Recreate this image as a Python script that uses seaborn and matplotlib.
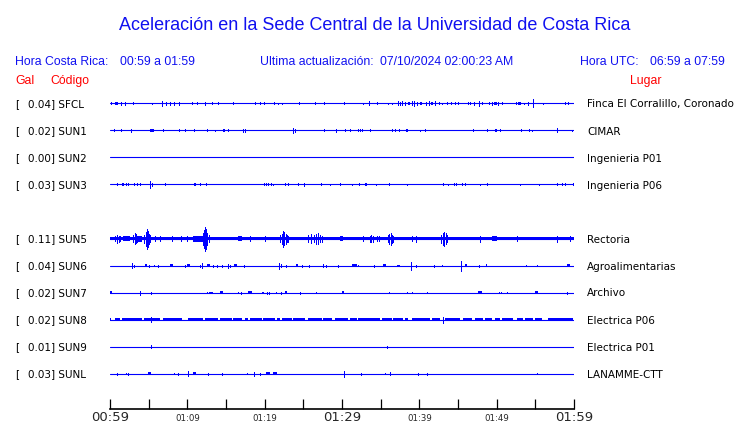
import matplotlib
matplotlib.use("Agg")

import matplotlib.pyplot as plt
import seaborn as sns
import pandas as pd

sns.set_style("white")
plt.rcParams["font.family"] = ["DejaVu Sans"]

BLUE = "#0000ff"
TITLE_BLUE = "#1010f0"
RED = "#ff0000"

# station info
stations = ["SFCL", "SUN1", "SUN2", "SUN3", "SUN5", "SUN6", "SUN7", "SUN8", "SUN9", "SUNL"]
peak_gal = [0.04, 0.02, 0.00, 0.03, 0.11, 0.04, 0.02, 0.02, 0.01, 0.03]
places = ["Finca El Corralillo, Coronado", "CIMAR", "Ingenieria P01", "Ingenieria P06",
          "Rectoria", "Agroalimentarias", "Archivo", "Electrica P06", "Electrica P01",
          "LANAMME-CTT"]
# background noise half-width of each trace (0 = clean line)
noise_level = [0, 0, 0, 0, 1.8, 0, 0, 0, 0, 0]

tick_minutes = [0, 5, 10, 15, 20, 25, 30, 35, 40, 45, 50, 55, 60]
tick_labels = ["00:59", "", "01:09", "", "01:19", "", "01:29", "", "01:39", "", "01:49", "", "01:59"]
big_labels = ["00:59", "01:29", "01:59"]

# events: (start minute, end minute, half amplitude); start == end -> single spike
sfcl_events = [
    (0.13, 0.13, 1), (0.65, 1.03, 1.5), (1.38, 1.38, 1.5), (1.94, 1.94, 1.5), (2.94, 2.94, 1),
    (5.47, 5.47, 0.7), (6.69, 6.69, 2.5), (7.24, 7.24, 1.5), (7.76, 7.76, 1.5), (8.28, 8.28, 1.5),
    (8.92, 8.92, 1.5), (10.64, 10.64, 1), (11.29, 11.29, 1), (12.25, 12.25, 1.2), (13.23, 13.23, 1),
    (13.93, 13.93, 1), (15.90, 15.90, 1), (18.79, 18.79, 1), (19.44, 19.44, 1), (19.95, 19.95, 1),
    (21.25, 21.25, 1), (21.76, 21.76, 0.7), (22.28, 22.28, 0.7), (24.48, 24.48, 1), (26.55, 26.55, 1),
    (27.71, 27.71, 1), (30.30, 30.30, 1), (32.68, 32.68, 0.7), (33.49, 33.49, 2), (34.56, 34.56, 1),
    (35.91, 35.91, 0.7), (36.50, 36.50, 0.7), (37.20, 37.20, 2), (37.45, 37.45, 1.5), (37.76, 37.76, 2),
    (38.15, 38.15, 1.5), (38.5, 38.79, 1.2), (39.01, 39.01, 2), (39.33, 39.33, 2.5), (39.66, 39.66, 1.5),
    (40.09, 40.3, 1.2), (40.86, 40.86, 1.5), (41.29, 41.29, 2), (41.5, 41.8, 1.5), (42.03, 42.03, 2),
    (42.58, 42.58, 1), (42.89, 43.08, 1), (43.54, 43.54, 1),
    (44.09, 44.09, 1), (44.61, 44.61, 1), (45.04, 45.04, 1), (46.25, 46.25, 1), (46.55, 46.55, 1),
    (47.07, 47.07, 1.5), (47.68, 47.68, 2.5), (48.06, 48.06, 1), (49.01, 49.01, 1), (49.36, 49.36, 1.5),
    (49.6, 50.0, 1.2), (50.21, 50.21, 1.5),
    (50.73, 50.73, 1), (52.46, 52.46, 1), (52.80, 53.11, 1.2), (53.57, 53.57, 0.7), (54.01, 54.01, 1.5),
    (54.74, 54.74, 4), (56.03, 56.03, 0.7), (58.84, 58.84, 1), (59.26, 59.26, 1),
]
sun1_events = [
    (0.52, 0.52, 1), (1.46, 1.46, 1), (2.67, 2.67, 1.5), (5.17, 5.73, 1.2), (6.89, 6.89, 1),
    (8.92, 8.92, 1), (9.74, 9.74, 1), (10.9, 10.9, 1), (12.5, 12.5, 1), (13.62, 13.62, 0.8),
    (14.65, 14.9, 1.2), (15.3, 15.3, 1), (17.2, 17.2, 1.2), (17.46, 17.46, 1.2), (23.7, 23.7, 2.5),
    (23.92, 23.92, 1.5), (27.72, 27.72, 1), (29.18, 29.18, 1.2), (30.39, 30.39, 1), (31.07, 31.07, 1),
    (32.11, 32.11, 1), (32.37, 32.37, 1), (32.63, 32.63, 1), (33.66, 33.66, 1), (36.50, 36.50, 1),
    (36.85, 36.85, 1), (37.41, 37.41, 1), (38.3, 38.5, 1.2), (40.12, 40.12, 0.7), (40.77, 40.77, 1),
    (46.94, 46.94, 1), (48.79, 48.79, 1), (49.8, 50.0, 1.2), (50.47, 50.47, 1), (53.19, 53.19, 1),
    (54.22, 54.22, 1), (54.61, 54.61, 0.7), (57.84, 57.84, 2), (59.78, 59.78, 0.8),
]
sun2_events = []
sun3_events = [
    (0.86, 1.07, 1.2), (1.59, 1.81, 1.2), (2.11, 2.11, 1), (2.37, 2.5, 1.2), (3.06, 3.2, 1.2),
    (3.45, 3.45, 1), (3.84, 3.84, 1), (5.21, 5.21, 3.5), (5.39, 5.39, 1.5), (7.11, 7.28, 1.2),
    (10.9, 11.12, 1.2), (11.68, 11.68, 1), (12.41, 12.41, 1), (19.95, 19.95, 1), (20.21, 20.21, 1),
    (20.47, 20.47, 1), (20.82, 20.82, 1), (21.12, 21.12, 0.7), (22.63, 22.63, 1), (23.0, 23.15, 1.2),
    (24.35, 24.35, 1), (25.05, 25.05, 1.2), (27.25, 27.4, 1.2), (28.49, 28.49, 0.8), (29.78, 29.78, 1),
    (31.33, 31.33, 0.8), (32.24, 32.24, 1), (32.97, 33.27, 1.2), (34.44, 34.44, 0.7), (36.12, 36.12, 1),
    (38.44, 38.44, 0.7), (43.02, 43.15, 1.2), (43.75, 43.75, 0.7), (44.48, 44.48, 1), (44.7, 44.7, 1),
    (45.47, 45.47, 1), (45.9, 45.9, 1), (47.88, 47.88, 0.8), (48.79, 48.79, 1), (53.06, 53.06, 0.8),
    (55.52, 55.52, 0.7), (57.84, 57.84, 1), (58.49, 58.49, 1), (58.84, 58.84, 1), (59.92, 59.92, 1),
]
sun5_events = [
    (0.65, 0.65, 2.5), (0.9, 0.9, 4), (1.1, 1.1, 3), (1.3, 1.3, 2.5), (1.68, 2.59, 2.5),
    (3.0, 3.0, 3.5), (3.2, 3.2, 5.5), (3.35, 3.35, 4.5), (3.5, 3.5, 3), (3.62, 4.14, 3),
    (4.4, 4.4, 4), (4.6, 4.6, 7), (4.75, 4.75, 10), (4.9, 4.9, 8), (5.05, 5.05, 5), (5.2, 5.2, 3.5),
    (5.8, 5.8, 2.5), (6.5, 6.5, 2.5), (7.98, 7.98, 2.5), (9.18, 9.18, 2.5), (9.92, 9.92, 2.5),
    (10.73, 12.03, 3), (12.0, 12.0, 6), (12.15, 12.15, 9), (12.3, 12.3, 12), (12.45, 12.45, 10),
    (12.6, 12.6, 6), (12.8, 12.8, 3.5), (16.55, 17.07, 2.5), (18.14, 18.14, 2.5), (20.04, 20.04, 2.5),
    (22.0, 22.0, 3.5), (22.2, 22.2, 5), (22.4, 22.4, 8), (22.55, 22.55, 6.5), (22.7, 22.7, 5),
    (22.9, 22.9, 3.5), (23.05, 23.05, 3), (25.6, 25.6, 3.5), (26.0, 26.0, 4.5), (26.4, 26.4, 3.5),
    (26.7, 26.7, 5), (26.9, 26.9, 5.5), (27.1, 27.1, 3.5), (27.4, 27.4, 3), (29.74, 30.13, 2.5),
    (32.68, 32.68, 2.5), (33.6, 33.6, 3), (33.8, 33.8, 3.5), (34.05, 34.05, 3), (34.49, 34.49, 2.5),
    (34.82, 34.82, 2.5), (35.9, 35.9, 3.5), (36.1, 36.1, 5), (36.3, 36.3, 6), (36.5, 36.5, 4),
    (36.65, 36.65, 3), (39.01, 39.01, 2.5), (39.57, 39.57, 3), (42.8, 42.8, 4), (43.0, 43.0, 6),
    (43.2, 43.2, 7), (43.4, 43.4, 5.5), (43.55, 43.55, 3.5), (47.84, 47.84, 3), (49.36, 50.0, 2.2),
    (52.59, 52.59, 2.5), (57.76, 57.76, 3), (59.48, 59.48, 2.5),
]
sun6_events = [
    (2.81, 2.81, 2.5), (3.14, 3.14, 1), (4.53, 4.75, 1.5), (5.08, 5.08, 1), (5.73, 5.73, 0.7),
    (6.17, 6.17, 1), (7.76, 8.19, 1.2), (9.70, 9.70, 1), (9.92, 10.34, 1.2), (11.64, 11.64, 1),
    (11.94, 11.94, 2.5), (12.5, 12.93, 1.2), (13.36, 13.36, 1), (13.88, 13.88, 1), (14.44, 14.44, 1),
    (15.30, 15.30, 2), (15.52, 15.52, 1), (16.07, 16.38, 1.2), (17.29, 17.29, 1), (21.85, 21.85, 3),
    (22.07, 22.07, 1.5), (22.72, 22.72, 1), (24.05, 24.35, 1.2), (24.79, 24.79, 1), (25.73, 25.73, 1),
    (27.58, 27.58, 1.5), (27.89, 27.89, 1), (29.52, 29.52, 1), (31.25, 31.90, 1.2), (32.11, 32.11, 0.7),
    (34.14, 34.14, 1), (35.26, 35.65, 1.2), (37.15, 37.50, 1), (38.88, 38.88, 4), (39.57, 39.57, 1),
    (41.94, 41.94, 1), (42.97, 42.97, 0.7), (45.39, 45.39, 5), (45.90, 46.20, 1.2), (47.68, 47.68, 1),
    (48.62, 48.79, 1.2), (53.79, 53.79, 0.7), (55.18, 55.18, 0.7), (59.06, 59.48, 1.2),
]
sun7_events = [
    (0.0, 0.3, 1.2), (3.88, 3.88, 2), (5.26, 5.26, 1), (12.5, 12.5, 0.7), (12.8, 13.36, 1),
    (14.22, 14.65, 1.2), (16.59, 16.59, 0.7), (16.94, 16.94, 1), (17.81, 18.32, 1.2), (19.69, 19.95, 1),
    (20.26, 20.26, 1), (20.6, 20.6, 1), (21.43, 21.63, 1), (22.11, 22.11, 1), (22.63, 22.93, 1.2),
    (24.53, 24.53, 1), (26.68, 26.68, 0.7), (29.96, 30.22, 1.2), (36.12, 36.12, 0.7), (38.37, 38.37, 0.7),
    (39.01, 39.01, 0.7), (40.95, 40.95, 0.7), (47.62, 48.06, 1.5), (50.26, 50.26, 0.7), (50.52, 50.52, 0.7),
    (51.37, 51.37, 0.7), (54.96, 55.39, 1.2), (59.06, 59.06, 1),
]
sun8_events = [
    (0.0, 0.13, 1.3), (0.65, 1.29, 1.3), (1.51, 4.10, 1.3), (4.44, 6.47, 1.3), (5.26, 5.26, 2.5),
    (6.89, 9.27, 1.3), (10.12, 12.06, 1.3), (12.28, 14.0, 1.3), (14.22, 15.74, 1.3), (15.94, 17.03, 1.3),
    (17.46, 17.88, 1.3), (18.10, 19.62, 1.3), (19.82, 21.34, 1.3), (21.56, 21.98, 1.3), (22.20, 23.50, 1.3),
    (23.70, 25.22, 1.3), (25.64, 27.37, 1.3), (27.58, 28.67, 1.3), (29.09, 30.82, 1.3), (31.03, 31.90, 1.3),
    (32.11, 34.91, 1.3), (35.13, 36.43, 1.3), (36.63, 37.93, 1.3), (38.15, 38.57, 1.3), (39.01, 41.38, 1.3),
    (41.60, 42.67, 1.3), (43.0, 43.0, 3), (43.32, 45.26, 1.3), (45.69, 46.77, 1.3), (47.20, 48.27, 1.3),
    (48.49, 49.36, 1.3), (49.78, 50.43, 1.3), (50.65, 52.15, 1.3), (52.59, 53.44, 1.3), (53.66, 54.74, 1.3),
    (54.96, 55.82, 1.3), (56.68, 59.91, 1.3),
]
sun9_events = [(5.30, 5.30, 1.5), (35.86, 35.86, 1)]
sunl_events = [
    (0.94, 0.94, 1), (2.03, 2.03, 0.7), (2.37, 2.37, 1), (4.95, 5.30, 1.2), (8.31, 8.31, 0.7),
    (8.75, 8.75, 1), (10.05, 10.05, 2.5), (10.77, 11.12, 1.2), (12.71, 12.71, 1), (14.44, 14.44, 1),
    (17.68, 17.68, 0.7), (18.62, 18.62, 2), (19.40, 19.40, 1), (20.13, 20.69, 1.2), (21.12, 21.55, 1.2),
    (30.26, 30.26, 3), (32.42, 32.42, 1), (35.56, 35.56, 0.7), (36.21, 36.21, 1.5), (39.87, 39.87, 1),
    (40.95, 40.95, 1), (55.18, 55.18, 0.7),
]

all_events = [sfcl_events, sun1_events, sun2_events, sun3_events, sun5_events,
              sun6_events, sun7_events, sun8_events, sun9_events, sunl_events]

W, H = 740, 423
fig = plt.figure(figsize=(W / 100, H / 100), dpi=100)

# axes: x in minutes, y in pixel rows (inverted)
ax = fig.add_axes([110 / W, 1 - 409 / H, 464 / W, (409 - 90) / H])
ax.set_xlim(0, 60)
ax.set_ylim(409, 90)

# row slot per station (slot 4 left empty, as SUN4 is missing)
slot = [0, 1, 2, 3, 5, 6, 7, 8, 9, 10]
row_y = [103.5 + 27 * s for s in slot]

# baselines
base = pd.DataFrame({
    "t": [0, 60] * len(stations),
    "y": [y for y in row_y for _ in range(2)],
    "station": [s for s in stations for _ in range(2)],
})
sns.lineplot(data=base, x="t", y="y", units="station", estimator=None,
             color=BLUE, linewidth=0.8, ax=ax, legend=False)

for y, ev, nz in zip(row_y, all_events, noise_level):
    if nz > 0:
        ax.bar(0, 2 * nz, width=60, bottom=y - nz, align="edge", color=BLUE, linewidth=0)
    spikes = [e for e in ev if e[1] == e[0]]
    blocks = [e for e in ev if e[1] > e[0]]
    if spikes:
        ax.vlines([e[0] for e in spikes], [y - e[2] for e in spikes], [y + e[2] for e in spikes],
                  color=BLUE, linewidth=0.72, antialiased=False)
    for t0, t1, a in blocks:
        ax.bar(t0, 2 * a, width=t1 - t0, bottom=y - a, align="edge", color=BLUE,
               linewidth=0, antialiased=False)

# axis styling
for side in ["left", "right", "top"]:
    ax.spines[side].set_visible(False)
ax.spines["bottom"].set_color("black")
ax.spines["bottom"].set_linewidth(1.2)
ax.set_yticks([])
ax.set_xticks(tick_minutes)
ax.set_xticklabels(tick_labels)
ax.tick_params(axis="x", bottom=True, direction="in", length=7, width=0.9,
               color="black", pad=1.5)
for lab in ax.get_xticklabels():
    if lab.get_text() in big_labels:
        lab.set_fontsize(9.5)
    else:
        lab.set_fontsize(6.2)
        lab.set_y(-0.008)
ax.set_xlabel("")
ax.set_ylabel("")


def fx(x):
    return x / W


def fy(y):
    return 1 - y / H


head = ["Liberation Sans", "DejaVu Sans"]

# title and header
fig.text(fx(375), fy(30), "Aceleración en la Sede Central de la Universidad de Costa Rica",
         ha="center", va="baseline", fontsize=13, color=TITLE_BLUE, family=head)
fig.text(fx(15), fy(65), "Hora Costa Rica:", fontsize=8.8, color=TITLE_BLUE, family=head, va="baseline")
fig.text(fx(120), fy(65), "00:59 a 01:59", fontsize=8.8, color=TITLE_BLUE, family=head, va="baseline")
fig.text(fx(260), fy(65), "Ultima actualización:", fontsize=8.8, color=TITLE_BLUE, family=head, va="baseline")
fig.text(fx(380), fy(65), "07/10/2024 02:00:23 AM", fontsize=8.8, color=TITLE_BLUE, family=head, va="baseline")
fig.text(fx(580), fy(65), "Hora UTC:", fontsize=8.8, color=TITLE_BLUE, family=head, va="baseline")
fig.text(fx(650), fy(65), "06:59 a 07:59", fontsize=8.8, color=TITLE_BLUE, family=head, va="baseline")
fig.text(fx(15), fy(84), "Gal", fontsize=8.8, color=RED, family=head, va="baseline")
fig.text(fx(50), fy(84), "Código", fontsize=8.8, color=RED, family=head, va="baseline")
fig.text(fx(630), fy(84), "Lugar", fontsize=8.8, color=RED, family=head, va="baseline")

# station labels
for y, code, g, place in zip(row_y, stations, peak_gal, places):
    fig.text(fx(15), fy(y + 4), "[", fontsize=7.5, color="black", va="baseline")
    fig.text(fx(27.5), fy(y + 4), f"{g:.2f}] {code}", fontsize=7.5, color="black", va="baseline")
    fig.text(fx(587), fy(y + 4), place, fontsize=7.5, color="black", va="baseline")

fig.savefig("out.png", dpi=100)
